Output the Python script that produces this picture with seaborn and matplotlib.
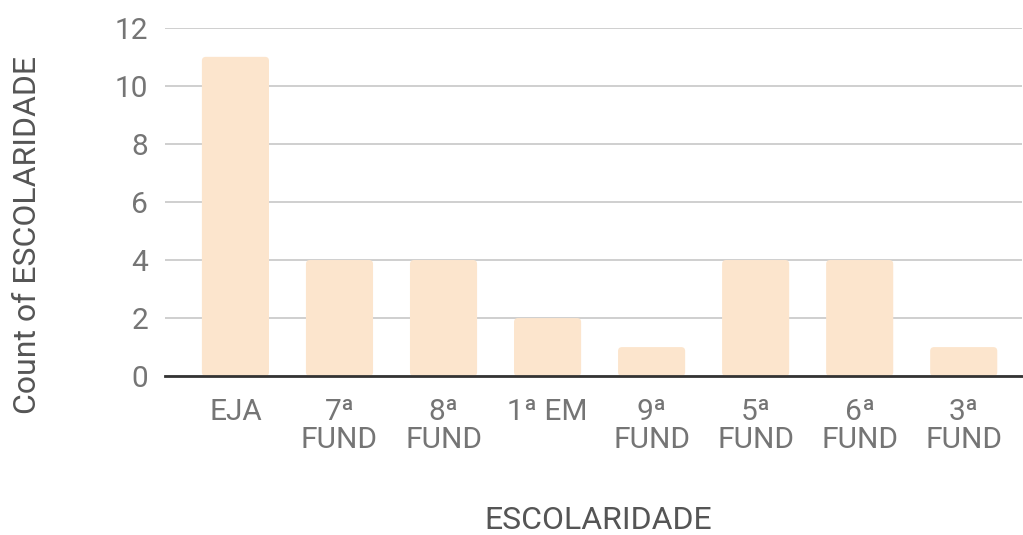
import matplotlib
matplotlib.use("Agg")
import matplotlib.pyplot as plt
import seaborn as sns
import pandas as pd
from matplotlib.patches import FancyBboxPatch

categories = ["EJA", "7ª\nFUND", "8ª\nFUND", "1ª EM", "9ª\nFUND",
              "5ª\nFUND", "6ª\nFUND", "3ª\nFUND"]
counts = [11, 4, 4, 2, 1, 4, 4, 1]
y_ticks = [0, 2, 4, 6, 8, 10, 12]

BAR_COLOR = "#fce5cd"
TEXT_COLOR = "#757575"

sns.set_theme(style="white")
plt.rcParams["font.family"] = ["Roboto", "DejaVu Sans"]

df = pd.DataFrame({"ESCOLARIDADE": categories, "count": counts})

fig, ax = plt.subplots(figsize=(10.23, 5.35), dpi=100)
fig.subplots_adjust(left=0.161, right=0.999, top=0.948, bottom=0.297)

sns.barplot(data=df, x="ESCOLARIDADE", y="count", color=BAR_COLOR,
            width=0.645, saturation=1, ax=ax, zorder=2)

ax.set_xlim(-0.68, 7.56)
ax.set_ylim(0, 12)

# rounded tops, like the original chart
px_x = (ax.get_xlim()[1] - ax.get_xlim()[0]) / (fig.get_figwidth() * fig.dpi * 0.838)
px_y = 12 / (fig.get_figheight() * fig.dpi * 0.651)
for p in list(ax.patches):
    x, y0 = p.get_x(), p.get_y()
    w, h = p.get_width(), p.get_height()
    p.remove()
    box = FancyBboxPatch((x, y0), w, h,
                         boxstyle="round,pad=0,rounding_size=%f" % (4 * px_x),
                         mutation_aspect=px_y / px_x,
                         facecolor=BAR_COLOR, edgecolor="none", zorder=2)
    ax.add_patch(box)

ax.set_yticks(y_ticks)
ax.yaxis.grid(True, color="#cccccc", linewidth=1.3, zorder=0)
ax.set_axisbelow(True)
for s in ["top", "right", "left"]:
    ax.spines[s].set_visible(False)
ax.spines["bottom"].set_color("#333333")
ax.spines["bottom"].set_linewidth(2)
ax.spines["bottom"].set_zorder(3)

ax.tick_params(axis="both", length=0, labelsize=21.5, labelcolor=TEXT_COLOR)
ax.tick_params(axis="y", pad=12)
ax.tick_params(axis="x", pad=16)
for lbl in ax.get_xticklabels():
    lbl.set_linespacing(1.0)
    lbl.set_verticalalignment("top")

ax.set_xlabel("ESCOLARIDADE", fontsize=23, color="#555555", labelpad=37)
ax.set_ylabel("Count of ESCOLARIDADE", fontsize=23, color="#555555", labelpad=52)
ax.yaxis.label.set_y(0.405)
ax.xaxis.label.set_x(0.506)

fig.savefig("out.png", dpi=100)
